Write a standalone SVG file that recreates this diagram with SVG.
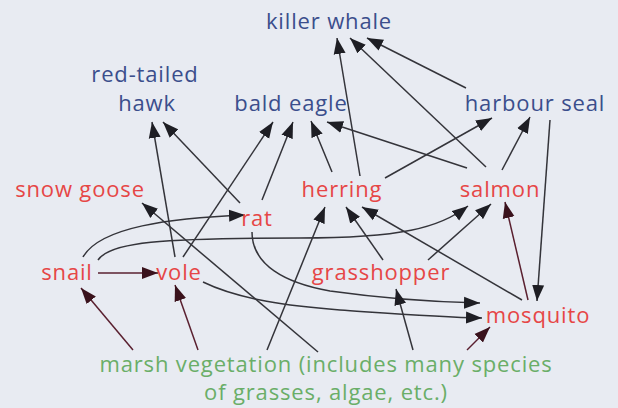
<svg xmlns="http://www.w3.org/2000/svg" width="618" height="408" viewBox="0 0 618 408">
<defs>
<marker id="ah" markerUnits="userSpaceOnUse" markerWidth="17" markerHeight="13" refX="16" refY="6.5" orient="auto">
<path d="M0,0.5 L16,6.5 L0,12.5 z" fill="#1e1e24"/>
</marker>
<marker id="ahr" markerUnits="userSpaceOnUse" markerWidth="17" markerHeight="13" refX="16" refY="6.5" orient="auto">
<path d="M0,0.5 L16,6.5 L0,12.5 z" fill="#3a121c"/>
</marker>
<style>
text{font-family:"Open Sans","Noto Sans","Liberation Sans",sans-serif;font-size:22px;letter-spacing:0.85px;text-anchor:middle}
.b{fill:#3b4e8c}
.r{fill:#e64646}
.g{fill:#6aae68}
.c path{fill:none;stroke:#34343a;stroke-width:1.5;marker-end:url(#ah)}
.c path.dr{stroke:#5a2030;marker-end:url(#ahr)}
</style>
</defs>
<rect width="618" height="408" fill="#e8ebf2"/>
<g class="c" id="connectors">
<path d="M466,88 L367,38"/>
<path d="M486,167 L350,38"/>
<path d="M360,176 L337,38"/>
<path d="M332,172 L311,121"/>
<path d="M467,168 L327,122"/>
<path d="M385,178 L492,118"/>
<path d="M502,170 L530,117"/>
<path d="M550,120 L537,301"/>
<path class="dr" d="M528,300 L505,202"/>
<path d="M522,300 L362,207"/>
<path d="M383,260 L346,207"/>
<path d="M428,260 L491,204"/>
<path d="M267,350 L325,207"/>
<path d="M98,260 C110,242 160,238 300,238 C400,238 440,228 468,206"/>
<path d="M83,257 C100,227 170,218 245,215"/>
<path class="dr" d="M98,273 L158,273"/>
<path class="dr" d="M133,350 L81,288"/>
<path class="dr" d="M198,350 L175,285"/>
<path d="M175,257 L152,122"/>
<path d="M183,257 L273,122"/>
<path d="M240,203 L163,122"/>
<path d="M262,200 L293,122"/>
<path d="M252,232 C252,265 285,283 330,291 C380,298 430,302 480,303"/>
<path d="M203,282 C240,300 290,306 340,310 C400,314 440,317 482,318"/>
<path d="M318,352 L142,203"/>
<path d="M413,350 L396,289"/>
<path class="dr" d="M467,350 L490,327"/>
</g>
<g id="killer-whale"><text class="b" x="329" y="29">killer whale</text></g>
<g id="red-tailed-hawk"><text class="b" x="145" y="82">red-tailed</text><text class="b" x="147" y="111">hawk</text></g>
<g id="bald-eagle"><text class="b" x="291" y="111">bald eagle</text></g>
<g id="harbour-seal"><text class="b" x="535" y="111">harbour seal</text></g>
<g id="snow-goose"><text class="r" x="80" y="197">snow goose</text></g>
<g id="herring"><text class="r" x="342" y="197">herring</text></g>
<g id="salmon"><text class="r" x="500" y="197">salmon</text></g>
<g id="rat"><text class="r" x="257" y="226">rat</text></g>
<g id="snail"><text class="r" x="67" y="280">snail</text></g>
<g id="vole"><text class="r" x="179" y="280">vole</text></g>
<g id="grasshopper"><text class="r" x="381" y="280">grasshopper</text></g>
<g id="mosquito"><text class="r" x="538" y="323">mosquito</text></g>
<g id="marsh-vegetation"><text class="g" x="326" y="372">marsh vegetation (includes many species</text><text class="g" x="326" y="400">of grasses, algae, etc.)</text></g>
</svg>
